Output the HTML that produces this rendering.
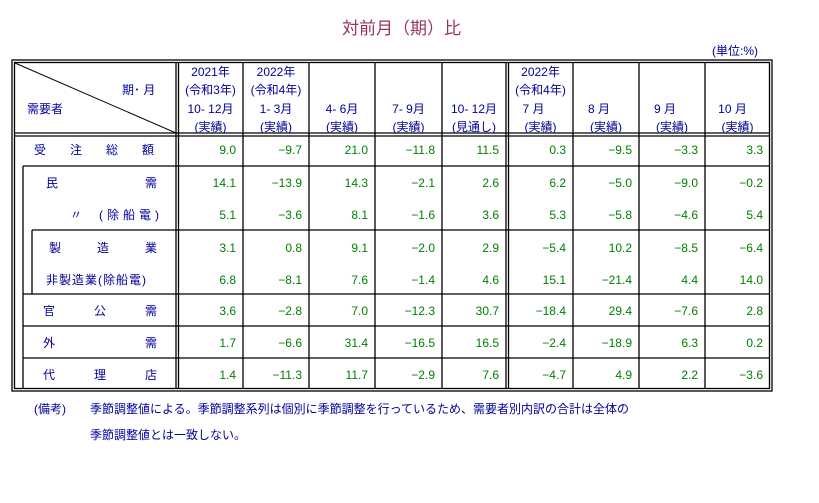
<!DOCTYPE html>
<html><head><meta charset="utf-8"><style>
body{margin:0;width:819px;height:503px;background:#fff;position:relative;overflow:hidden;font-family:"Liberation Sans","Noto Sans CJK JP",sans-serif;}
.t{position:absolute;font-size:12px;line-height:14px;color:#000099;white-space:nowrap;}
.h{text-align:center;}
.n{position:absolute;font-size:12px;line-height:14px;color:#008000;text-align:right;white-space:nowrap;}
svg{position:absolute;left:0;top:0;}
</style></head><body>
<div class="t" style="left:342px;top:19px;font-size:17px;line-height:20px;color:#993366;">対前月（期）比</div>
<div class="t" style="left:712px;top:44px;">(単位:%)</div>
<svg width="819" height="503" stroke="#000" stroke-width="1.3" fill="none">
<rect x="12" y="60" width="760" height="331"/>
<rect x="14.5" y="62.5" width="755" height="326"/>
<line x1="14" y1="133" x2="770" y2="133"/><line x1="14" y1="136" x2="770" y2="136"/>
<line x1="176" y1="62" x2="176" y2="389"/><line x1="178.5" y1="62" x2="178.5" y2="389"/>
<line x1="506" y1="62" x2="506" y2="389"/><line x1="508.5" y1="62" x2="508.5" y2="389"/>
<line x1="243" y1="62" x2="243" y2="389"/><line x1="309" y1="62" x2="309" y2="389"/>
<line x1="375" y1="62" x2="375" y2="389"/><line x1="442" y1="62" x2="442" y2="389"/>
<line x1="573" y1="62" x2="573" y2="389"/><line x1="639" y1="62" x2="639" y2="389"/>
<line x1="705" y1="62" x2="705" y2="389"/>
<line x1="15" y1="63" x2="176" y2="133" stroke-width="1"/>
<line x1="23" y1="166" x2="770" y2="166"/>
<line x1="23" y1="166" x2="23" y2="389"/>
<line x1="32" y1="230" x2="770" y2="230"/>
<line x1="32" y1="230" x2="32" y2="294"/>
<line x1="23" y1="294" x2="770" y2="294"/>
<line x1="23" y1="326" x2="770" y2="326"/>
<line x1="23" y1="358" x2="770" y2="358"/>
</svg>
<div class="t" style="left:122px;top:83px;">期･ 月</div>
<div class="t" style="left:27px;top:102px;">需要者</div>
<div class="t h" style="left:178px;width:65px;top:63px;line-height:18.3px;">2021年<br>(令和3年)<br>10- 12月<br>(実績)</div>
<div class="t h" style="left:243px;width:66px;top:63px;line-height:18.3px;">2022年<br>(令和4年)<br>1- 3月<br>(実績)</div>
<div class="t h" style="left:309px;width:66px;top:99.6px;line-height:18.3px;">4- 6月<br>(実績)</div>
<div class="t h" style="left:375px;width:67px;top:99.6px;line-height:18.3px;">7- 9月<br>(実績)</div>
<div class="t h" style="left:442px;width:64px;top:99.6px;line-height:18.3px;">10- 12月<br>(見通し)</div>
<div class="t h" style="left:508px;width:65px;top:63px;line-height:18.3px;">2022年<br>(令和4年)<br><span style="margin-right:14px">7 月</span><br>(実績)</div>
<div class="t h" style="left:573px;width:66px;top:99.6px;line-height:18.3px;"><span style="margin-right:14px">8 月</span><br>(実績)</div>
<div class="t h" style="left:639px;width:66px;top:99.6px;line-height:18.3px;"><span style="margin-right:14px">9 月</span><br>(実績)</div>
<div class="t h" style="left:705px;width:65px;top:99.6px;line-height:18.3px;"><span style="margin-right:10px">10 月</span><br>(実績)</div>
<div class="t" style="left:34px;top:143px;letter-spacing:24px;">受注総額</div>
<div class="t" style="left:46px;top:176px;">民</div><div class="t" style="left:145px;top:176px;">需</div>
<div class="t" style="left:70px;top:208px;">〃</div><div class="t" style="left:99px;top:208px;letter-spacing:4px;">(除船電)</div>
<div class="t" style="left:49px;top:241px;letter-spacing:36px;">製造業</div>
<div class="t" style="left:46px;top:273px;letter-spacing:1px;">非製造業(除船電)</div>
<div class="t" style="left:43px;top:304px;letter-spacing:39px;">官公需</div>
<div class="t" style="left:43px;top:336px;">外</div><div class="t" style="left:145px;top:336px;">需</div>
<div class="t" style="left:43px;top:368px;letter-spacing:39px;">代理店</div>
<div id="nums"></div>
<div class="t" style="left:34px;top:402px;">(備考)</div>
<div class="t" style="left:90px;top:402px;">季節調整値による。季節調整系列は個別に季節調整を行っているため、需要者別内訳の合計は全体の</div>
<div class="t" style="left:90px;top:428px;">季節調整値とは一致しない。</div>
<script>
var rights=[236,302,368,435,499,566,632,698,763];
var ys=[143,176,208,241,273,304,336,368];
var d=[["9.0","-9.7","21.0","-11.8","11.5","0.3","-9.5","-3.3","3.3"],
["14.1","-13.9","14.3","-2.1","2.6","6.2","-5.0","-9.0","-0.2"],
["5.1","-3.6","8.1","-1.6","3.6","5.3","-5.8","-4.6","5.4"],
["3.1","0.8","9.1","-2.0","2.9","-5.4","10.2","-8.5","-6.4"],
["6.8","-8.1","7.6","-1.4","4.6","15.1","-21.4","4.4","14.0"],
["3.6","-2.8","7.0","-12.3","30.7","-18.4","29.4","-7.6","2.8"],
["1.7","-6.6","31.4","-16.5","16.5","-2.4","-18.9","6.3","0.2"],
["1.4","-11.3","11.7","-2.9","7.6","-4.7","4.9","2.2","-3.6"]];
var h="";
for(var r=0;r<8;r++)for(var c=0;c<9;c++){
h+='<div class="n" style="left:'+(rights[c]-60)+'px;width:60px;top:'+ys[r]+'px">'+d[r][c].replace("-","\u2212")+'</div>';}
document.getElementById("nums").innerHTML=h;
</script>
</body></html>
